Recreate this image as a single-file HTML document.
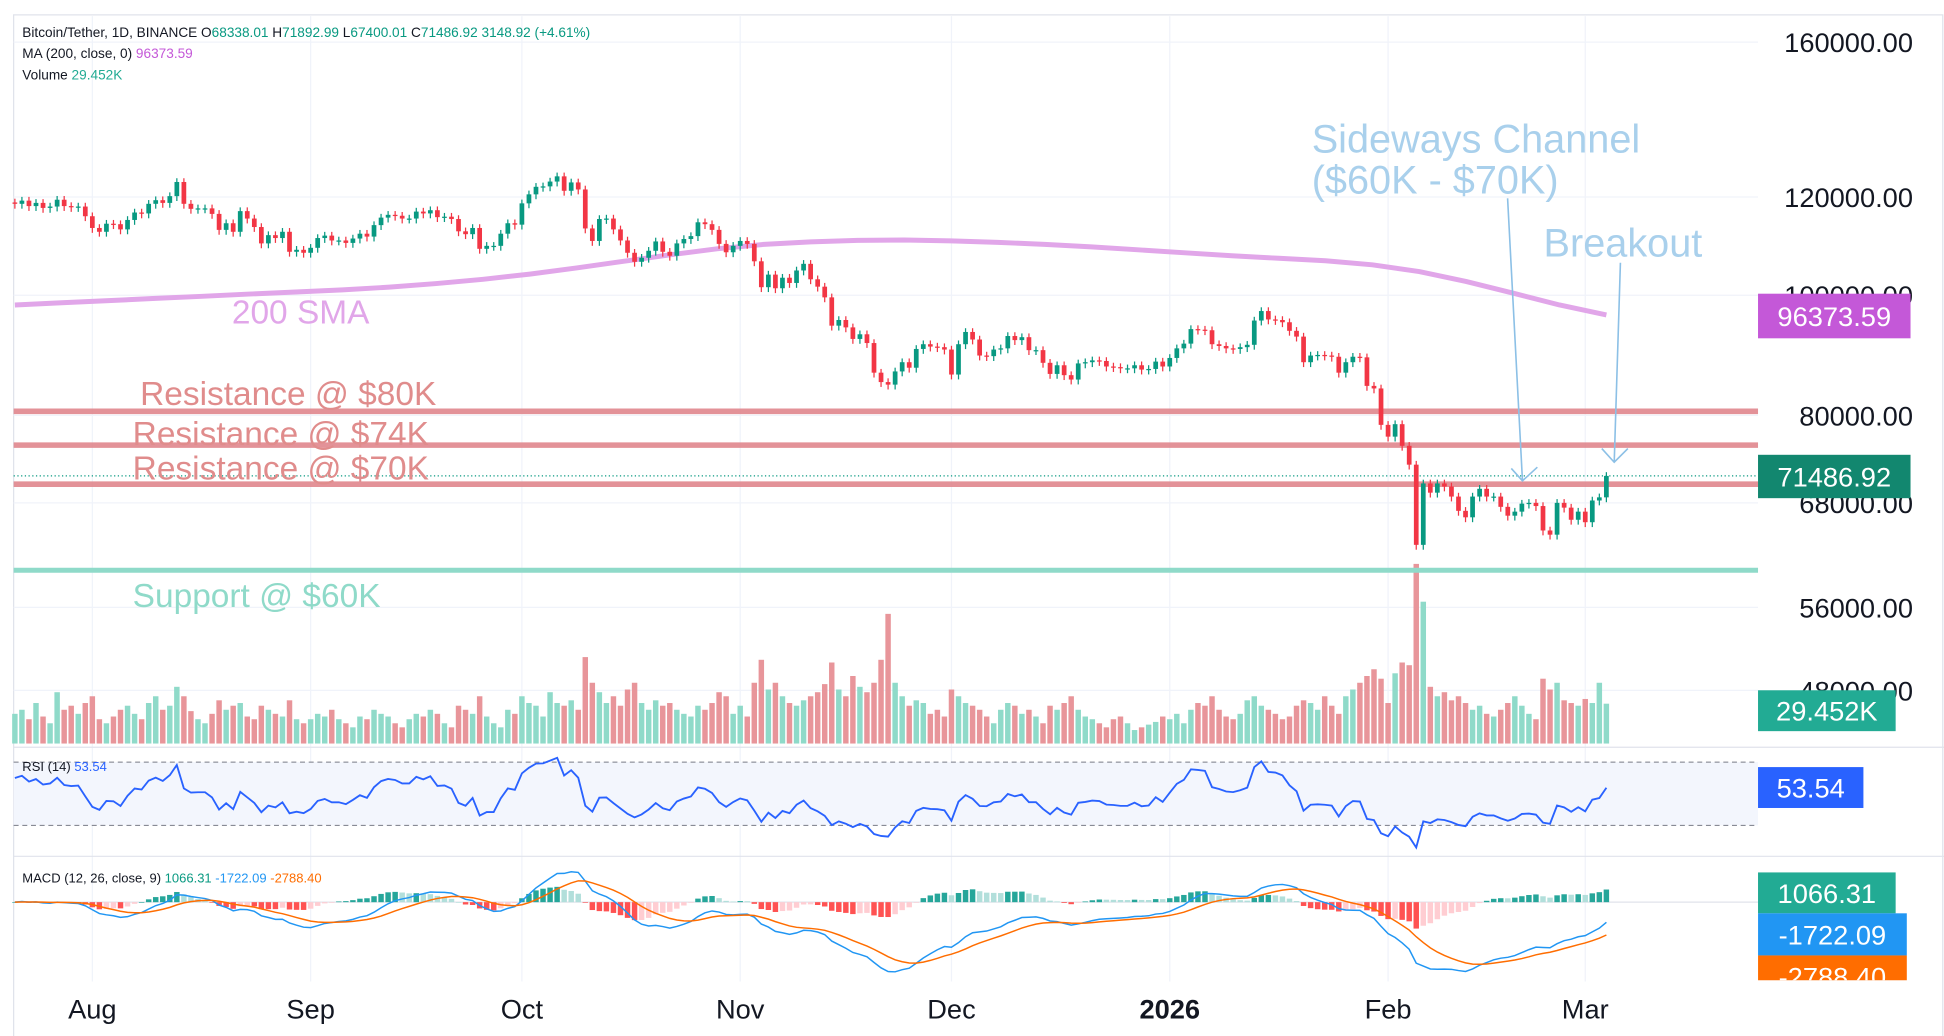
<!DOCTYPE html>
<html><head><meta charset="utf-8"><style>
html,body{margin:0;padding:0;background:#fff;width:1944px;height:1036px;overflow:hidden}
svg{display:block;font-family:"Liberation Sans",sans-serif}
</style></head><body>
<svg id="chart" width="1944" height="1036" viewBox="0 0 1568 836" preserveAspectRatio="none" xmlns="http://www.w3.org/2000/svg">
<rect x="0" y="0" width="1568" height="836" fill="#fff"/>
<rect x="11" y="12" width="1556" height="830" fill="none" stroke="#e0e3eb" stroke-width="1"/>
<g id="grid"></g>
<g id="vol"></g>
<g id="levels"></g>
<g id="sma"></g>
<g id="candles"></g>
<g id="rsi"></g>
<g id="macd"></g>
<g id="axes"></g>
<g id="annot"></g>
</svg>
<script>
const closes=[118.5,119.2,118.0,118.7,117.6,117.9,119.4,
118.0,117.8,117.9,115.8,113.3,112.5,114.2,
114.1,113.0,115.0,116.6,116.4,118.5,119.3,
118.7,120.2,123.4,118.5,117.4,117.5,117.5,
116.3,112.9,114.3,112.5,116.9,115.3,113.5,
110.1,111.8,111.2,112.5,108.4,108.8,108.2,
109.2,111.2,111.7,110.7,110.7,110.2,111.1,
112.1,111.5,113.9,115.5,116.1,115.9,115.3,
115.3,116.8,116.4,117.1,115.6,115.7,115.2,
112.6,112.0,113.3,109.0,109.6,109.6,112.1,
114.3,114.0,118.6,120.6,122.3,122.4,123.5,
124.7,121.4,123.3,121.7,113.2,110.6,115.2,
115.3,113.0,110.7,108.2,106.4,107.2,108.6,
110.5,108.4,107.6,110.1,111.0,111.6,114.5,
114.1,112.9,110.0,108.3,109.6,110.6,110.0,
106.5,101.5,103.9,101.3,103.3,102.3,104.7,
106.0,103.0,101.6,99.6,94.5,95.5,94.2,
92.2,93.0,91.5,86.6,85.1,84.7,86.8,
88.3,87.4,90.5,91.3,90.9,90.8,90.4,
86.3,91.3,93.4,92.1,89.4,89.3,90.4,
90.6,92.7,92.0,92.5,90.3,90.3,88.2,
86.4,87.8,86.2,85.5,88.1,88.3,88.6,
88.5,87.6,87.5,87.3,87.3,87.8,87.1,
87.2,88.4,87.6,89.0,90.6,91.4,93.9,
93.8,93.7,91.3,91.0,90.6,90.5,90.8,
91.2,95.4,97.1,95.6,95.5,95.1,93.6,
92.6,88.3,89.4,89.5,89.4,89.2,86.6,
88.3,89.2,89.1,84.5,84.1,78.6,76.9,
78.7,75.6,73.0,62.9,70.5,69.3,70.5,
70.1,68.8,67.0,66.2,68.8,69.8,68.8,
68.8,67.5,66.4,66.9,67.9,68.0,67.6,
64.6,64.1,68.0,67.4,65.9,66.9,65.6,
68.3,68.7,71.49];
const volumes=[22,25,18,30,20,15,38,25,28,22,30,35,18,15,20,25,28,22,18,30,35,25,28,42,35,24,18,15,
22,32,25,28,30,20,18,28,25,22,20,32,18,15,18,22,20,25,18,15,12,20,18,25,22,20,15,12,
18,22,20,25,22,15,12,28,25,22,35,20,15,12,25,22,35,30,28,20,38,30,28,32,25,64,45,38,
30,35,28,40,45,30,25,32,28,30,25,22,20,28,25,30,38,35,22,28,20,45,62,40,45,35,30,28,
32,35,38,44,60,40,35,50,42,38,45,62,96,45,35,28,32,30,22,25,20,40,35,30,28,25,20,15,
25,30,28,22,25,20,15,28,25,30,35,25,20,18,15,12,18,20,15,10,12,14,16,20,18,22,15,25,
30,28,35,25,20,18,22,32,35,28,25,22,18,20,28,32,30,25,35,28,22,35,40,45,50,55,48,30,
52,60,58,133,105,42,35,38,32,35,30,25,28,22,20,25,30,35,28,22,18,48,40,45,32,30,28,33,30,45,29.5];
const smaValues=[98.2,98.6,99.0,99.4,99.8,100.2,100.6,101.0,101.5,102.2,103.0,104.0,105.2,106.5,107.8,109.0,109.9,110.4,110.7,110.8,110.6,110.3,109.9,109.4,108.8,108.2,107.6,107.1,106.6,105.8,104.5,102.6,100.4,98.2,96.4];
const priceTicks=[160000,120000,100000,80000,68000,56000,48000];
const monthLabels=["Aug","Sep","Oct","Nov","Dec","2026","Feb","Mar"];
const monthIdx=[11,42,72,103,133,164,195,223];
const levels=[80600,75700,70400];
const supportLevel=60000;

const NS="http://www.w3.org/2000/svg";
function el(tag,attrs,parent,text){const e=document.createElementNS(NS,tag);for(const k in attrs)e.setAttribute(k,attrs[k]);if(text!==undefined)e.textContent=text;parent.appendChild(e);return e;}
const X=i=>12+i*5.68;
const Y=p=>34+434.5*Math.log(160000/p);
const VY=v=>600-v*1.09;
const RY=r=>615+(70-r)*1.275;
const MY=m=>728-m*0.0095;
const g=id=>document.getElementById(id);

for(const i of monthIdx){const l=el('line',{x1:X(i),x2:X(i),y1:13,y2:792,stroke:'#f0f3fa'},g('grid'));}
for(const p of priceTicks){const l=el('line',{x1:11,x2:1418,y1:Y(p),y2:Y(p),stroke:'#f0f3fa'},g('grid'));}
el('line',{x1:11,x2:1568,y1:603,y2:603,stroke:'#e0e3eb'},g('grid'));
el('line',{x1:11,x2:1568,y1:691,y2:691,stroke:'#e0e3eb'},g('grid'));

volumes.forEach((v,i)=>{const up=i===0||closes[i]>=closes[i-1];const r=el('rect',{x:X(i)-2.2,y:VY(v),width:4.4,height:600-VY(v),fill:up?'#8fdac9':'#e8959a'},g('vol'));});

levels.forEach(p=>{const l=el('line',{x1:11,x2:1418,y1:Y(p),y2:Y(p),stroke:'#e0878d','stroke-width':4.5,opacity:0.9},g('levels'));});
{const l=el('line',{x1:11,x2:1418,y1:Y(supportLevel),y2:Y(supportLevel),stroke:'#8fdac9','stroke-width':4},g('levels'));}
{const last=closes[closes.length-1]*1000;const l=el('line',{x1:11,x2:1418,y1:Y(last),y2:Y(last),stroke:'#089981','stroke-width':1,'stroke-dasharray':'1,2'},g('levels'));}

{let d='';const n=smaValues.length;smaValues.forEach((v,k)=>{const i=k*(closes.length-1)/(n-1);d+=(k?'L':'M')+X(i).toFixed(1)+','+Y(v*1000).toFixed(1);});
const p=el('path',{d,fill:'none',stroke:'#e1a6e9','stroke-width':4,'stroke-linejoin':'round'},g('sma'));}

closes.forEach((c,i)=>{const o=i?closes[i-1]:c+0.3;const up=c>=o;const col=up?'#089981':'#f23645';const hi=Math.max(o,c)*1.007,lo=Math.min(o,c)*0.991;
const w=el('line',{x1:X(i),x2:X(i),y1:Y(hi*1000),y2:Y(lo*1000),stroke:col,'stroke-width':1},g('candles'));
const yt=Y(Math.max(o,c)*1000),yb=Y(Math.min(o,c)*1000);
const r=el('rect',{x:X(i)-1.9,y:yt,width:3.8,height:Math.max(1,yb-yt),fill:col},g('candles'));});

{const rsi=[];let ag=0.9,al=0.6;for(let i=1;i<closes.length;i++){const ch=closes[i]-closes[i-1];const gn=Math.max(ch,0),ls=Math.max(-ch,0);ag=(ag*13+gn)/14;al=(al*13+ls)/14;rsi[i]=al===0?100:100-100/(1+ag/al);}
rsi[0]=60;
el('rect',{x:11,y:RY(70),width:1407,height:RY(30)-RY(70),fill:'#f3f6fd'},g('rsi'));
el('line',{x1:11,x2:1418,y1:RY(70),y2:RY(70),stroke:'#787b86','stroke-dasharray':'4,3','stroke-width':0.8},g('rsi'));
el('line',{x1:11,x2:1418,y1:RY(30),y2:RY(30),stroke:'#787b86','stroke-dasharray':'4,3','stroke-width':0.8},g('rsi'));
let d='';rsi.forEach((r,i)=>{d+=(i?'L':'M')+X(i).toFixed(1)+','+RY(Math.min(76,Math.max(16,r))).toFixed(1);});
const p=el('path',{d,fill:'none',stroke:'#2962ff','stroke-width':1.5},g('rsi'));
const t=el('text',{x:18,y:622,'font-size':10.5,fill:'#131722'},g('rsi'),'RSI (14) ');el('tspan',{fill:'#2962ff'},t,'53.54');}

{const k12=2/13,k26=2/27,k9=2/10;let e12=closes[0]*1000,e26=closes[0]*1000,sig=0;const m=[],s=[];
closes.forEach((c,i)=>{const v=c*1000;e12=e12+(v-e12)*k12;e26=e26+(v-e26)*k26;const mv=e12-e26;sig=sig+(mv-sig)*k9;m.push(mv);s.push(sig);});
el('line',{x1:11,x2:1418,y1:MY(0),y2:MY(0),stroke:'#e0e3eb'},g('macd'));
m.forEach((mv,i)=>{const h=mv-s[i];const ph=i?m[i-1]-s[i-1]:0;let col=h>=0?(h>=ph?'#26a69a':'#b2dfdb'):(h<ph?'#ff5252':'#ffcdd2');
const y1=MY(Math.max(h,0)),y2=MY(Math.min(h,0));const r=el('rect',{x:X(i)-2.2,y:y1,width:4.4,height:Math.max(0.5,y2-y1),fill:col},g('macd'));});
let d1='',d2='';m.forEach((mv,i)=>{d1+=(i?'L':'M')+X(i).toFixed(1)+','+MY(mv).toFixed(1);d2+=(i?'L':'M')+X(i).toFixed(1)+','+MY(s[i]).toFixed(1);});
const a=el('path',{d:d1,fill:'none',stroke:'#2196f3','stroke-width':1.2},g('macd'));
const b=el('path',{d:d2,fill:'none',stroke:'#ff6d00','stroke-width':1.2},g('macd'));
const t=el('text',{x:18,y:712,'font-size':10.5,fill:'#131722'},g('macd'),'MACD (12, 26, close, 9) ');
el('tspan',{fill:'#089981'},t,'1066.31 ');el('tspan',{fill:'#2196f3'},t,'-1722.09 ');el('tspan',{fill:'#ff6d00'},t,'-2788.40');}

const ax=g('axes');
priceTicks.forEach(p=>{const t=el('text',{x:1543,y:Y(p)+8,'font-size':22,fill:'#131722','text-anchor':'end'},ax,p.toFixed(2));});
monthLabels.forEach((m,k)=>{const t=el('text',{x:X(monthIdx[k]),y:822,'font-size':22,fill:'#131722','text-anchor':'middle','font-weight':m==='2026'?'bold':'normal'},ax,m);});
function badge(x,y,w,h,bg,txt,name){const gg=el('g',{},ax);el('rect',{x,y,width:w,height:h,fill:bg},gg);el('text',{x:x+w/2,y:y+h/2+8,'font-size':22,fill:'#fff','text-anchor':'middle'},gg,txt);}
badge(1418,237,123,36,'#c458d8','96373.59','sma-price-badge');
badge(1418,367,123,35,'#12876f','71486.92','last-price-badge');
badge(1418,557,111,33,'#22ab94','29.452K','volume-badge');
badge(1418,619,85,33,'#2962ff','53.54','rsi-badge');
badge(1418,704,111,33,'#22ab94','1066.31','macd-hist-badge');
const cp=el('clipPath',{id:'cl'},ax);el('rect',{x:1418,y:700,width:150,height:91},cp);
const cg=el('g',{'clip-path':'url(#cl)'},ax);
{const gg=el('g',{},cg);el('rect',{x:1418,y:737,width:120,height:34,fill:'#2196f3'},gg);el('text',{x:1478,y:762,'font-size':22,fill:'#fff','text-anchor':'middle'},gg,'-1722.09');}
{const gg=el('g',{},cg);el('rect',{x:1418,y:771,width:120,height:34,fill:'#ff6d00'},gg);el('text',{x:1478,y:796,'font-size':22,fill:'#fff','text-anchor':'middle'},gg,'-2788.40');}

{const t=el('text',{x:18,y:30,'font-size':11,fill:'#131722'},ax,'Bitcoin/Tether, 1D, BINANCE  O');
el('tspan',{fill:'#089981'},t,'68338.01');el('tspan',{},t,'  H');el('tspan',{fill:'#089981'},t,'71892.99');el('tspan',{},t,'  L');el('tspan',{fill:'#089981'},t,'67400.01');el('tspan',{},t,'  C');el('tspan',{fill:'#089981'},t,'71486.92  3148.92 (+4.61%)');
const t2=el('text',{x:18,y:47,'font-size':11,fill:'#131722'},ax,'MA (200, close, 0)  ');el('tspan',{fill:'#c458d8'},t2,'96373.59');
const t3=el('text',{x:18,y:64,'font-size':11,fill:'#131722'},ax,'Volume  ');el('tspan',{fill:'#22ab94'},t3,'29.452K');}

const an=g('annot');
function txt(x,y,s,fs,col,name){const t=el('text',{x,y,'font-size':fs,fill:col,'font-family':'Liberation Sans, sans-serif'},an,s);}
txt(187,261,'200 SMA',27,'#e1a6e9','sma-label');
txt(113,327,'Resistance @ $80K',27,'#e08c8c','resistance-80k-label');
txt(107,359,'Resistance @ $74K',27,'#e08c8c','resistance-74k-label');
txt(107,387,'Resistance @ $70K',27,'#e08c8c','resistance-70k-label');
txt(107,490,'Support @ $60K',27,'#8fdac9','support-label');
txt(1058,123,'Sideways Channel',32,'#a9d0ec','channel-label');
txt(1058,156,'($60K - $70K)',32,'#a9d0ec','channel-range-label');
txt(1245,207,'Breakout',32,'#a9d0ec','breakout-label');
{const a=el('g',{stroke:'#8cc0e6','stroke-width':1.3,fill:'none'},an);
el('path',{d:'M1216,160 L1228,388 M1219,378 L1228,388 L1240,377'},a);}
{const a=el('g',{stroke:'#8cc0e6','stroke-width':1.3,fill:'none'},an);
el('path',{d:'M1307,212 L1302,373 M1292,362 L1302,373 L1313,362'},a);}
</script>
</body></html>
